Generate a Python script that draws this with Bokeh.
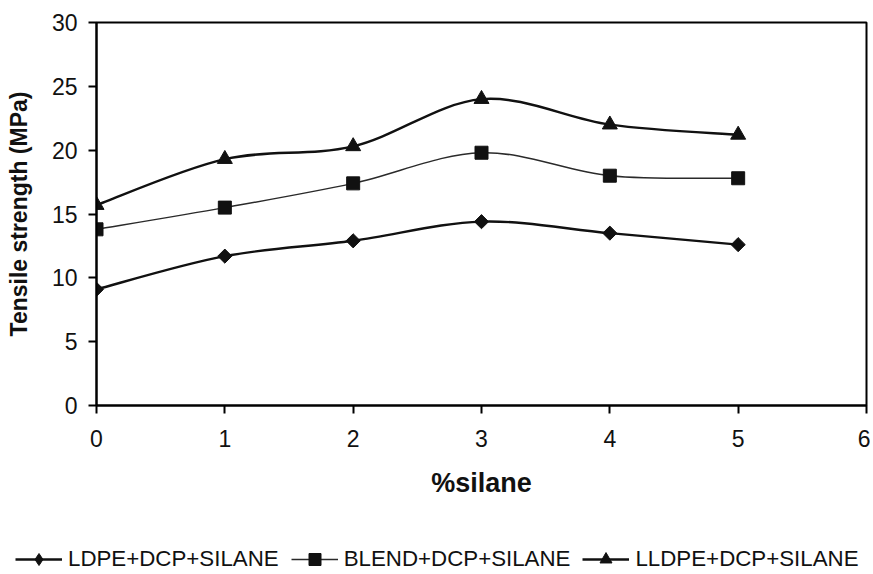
import numpy as np
from bokeh.plotting import figure
from bokeh.layouts import column
from bokeh.models import ColumnDataSource, Legend, LegendItem, Range1d, FixedTicker
from bokeh.embed import file_html
from bokeh.resources import INLINE

# data
silane = [0, 1, 2, 3, 4, 5]
ldpe = [9.1, 11.7, 12.9, 14.4, 13.5, 12.6]
blend = [13.8, 15.5, 17.4, 19.8, 18.0, 17.8]
lldpe = [15.7, 19.3, 20.3, 24.0, 22.0, 21.2]
labels = ["LDPE+DCP+SILANE", "BLEND+DCP+SILANE", "LLDPE+DCP+SILANE"]
x_ticks = [0, 1, 2, 3, 4, 5, 6]
y_ticks = [0, 5, 10, 15, 20, 25, 30]

FONT = "Liberation Sans"
INK = "#111111"


def smooth_segments(xs, ys):
    # excel-style smoothed line: one cubic bezier per segment
    px = [xs[0]] + list(xs) + [xs[-1]]
    py = [ys[0]] + list(ys) + [ys[-1]]
    seg = dict(x0=[], y0=[], x1=[], y1=[], cx0=[], cy0=[], cx1=[], cy1=[])
    for i in range(1, len(px) - 2):
        seg["x0"].append(px[i])
        seg["y0"].append(py[i])
        seg["x1"].append(px[i + 1])
        seg["y1"].append(py[i + 1])
        seg["cx0"].append(px[i] + (px[i + 1] - px[i - 1]) / 6)
        seg["cy0"].append(py[i] + (py[i + 1] - py[i - 1]) / 6)
        seg["cx1"].append(px[i + 1] - (px[i + 2] - px[i]) / 6)
        seg["cy1"].append(py[i + 1] - (py[i + 2] - py[i]) / 6)
    return ColumnDataSource(seg)


p = figure(width=870, height=520, x_range=Range1d(0, 6), y_range=Range1d(0, 30),
           output_backend="svg", toolbar_location=None,
           min_border_left=96, min_border_right=4, min_border_top=22, min_border_bottom=115,
           x_axis_label="%silane", y_axis_label="Tensile strength (MPa)")

p.xgrid.visible = False
p.ygrid.visible = False
p.outline_line_color = "black"
p.outline_line_width = 2
p.background_fill_color = "white"
p.border_fill_color = "white"

p.xaxis.ticker = FixedTicker(ticks=x_ticks)
p.yaxis.ticker = FixedTicker(ticks=y_ticks)
for ax in (p.xaxis, p.yaxis):
    ax.axis_line_color = "black"
    ax.axis_line_width = 2
    ax.major_tick_line_color = "black"
    ax.major_tick_line_width = 2
    ax.major_tick_in = 0
    ax.major_tick_out = 8
    ax.minor_tick_line_color = None
    ax.major_label_text_font = FONT
    ax.major_label_text_font_size = "23px"
    ax.major_label_text_color = INK
    ax.axis_label_text_font = FONT
    ax.axis_label_text_font_style = "bold"
    ax.axis_label_text_color = INK
p.yaxis.axis_label_text_font_size = "23px"
p.xaxis.axis_label_text_font_size = "27px"
p.yaxis.major_label_standoff = 11
p.yaxis.axis_label_standoff = 17
p.xaxis.major_label_standoff = 16
p.xaxis.axis_label_standoff = 18

# values, marker, size, angle, legend marker, line width, colour
series = [
    (ldpe, "square", 10, np.pi / 4, "diamond", 2.4, INK),
    (blend, "square", 13, 0, "square", 1.5, "#2a2a2a"),
    (lldpe, "triangle", 15, 0, "triangle", 2.4, INK),
]

# legend lives in its own strip under the chart; its ranges keep the key
# renderers out of view so only the legend keys show
leg = figure(width=870, height=54, output_backend="svg", toolbar_location=None,
             x_range=Range1d(100, 101), y_range=Range1d(100, 101),
             x_axis_location=None, y_axis_location=None, min_border=0)
leg.grid.visible = False
leg.outline_line_color = None
if "frame_align" in leg.properties():
    leg.frame_align = False
    p.frame_align = False

items = []
for (ys, marker, size, angle, key_marker, lw, color), label in zip(series, labels):
    p.bezier(x0="x0", y0="y0", x1="x1", y1="y1", cx0="cx0", cy0="cy0", cx1="cx1", cy1="cy1",
             source=smooth_segments(silane, ys), line_color=color, line_width=lw)
    p.scatter(silane, ys, marker=marker, size=size, angle=angle,
              fill_color=INK, line_color=INK)
    key_line = leg.line(silane, ys, line_color=color, line_width=lw)
    key_pt = leg.scatter(silane, ys, marker=key_marker, size=size,
                         fill_color=INK, line_color=INK)
    items.append(LegendItem(label=label, renderers=[key_line, key_pt]))

legend = Legend(items=items, orientation="horizontal", location=(15, 0),
                glyph_width=47, glyph_height=30, label_standoff=6, spacing=12,
                padding=0, margin=0, border_line_color=None, background_fill_alpha=0,
                label_text_font=FONT, label_text_font_size="22.3px", label_text_color=INK)
leg.add_layout(legend, "center")

open("out.html", "w").write(file_html(column(p, leg), INLINE))
